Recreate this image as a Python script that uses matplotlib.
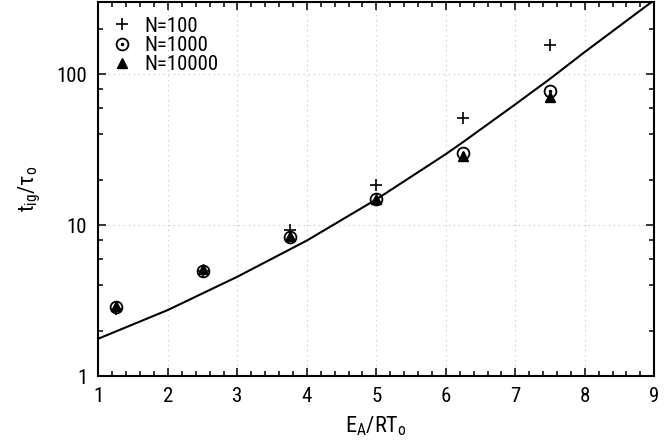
import matplotlib
matplotlib.use("Agg")
import matplotlib.pyplot as plt
from matplotlib.ticker import LogLocator, MultipleLocator, FixedLocator, NullFormatter
from matplotlib import font_manager

# ---- data ----
x_pts = [1.25, 2.5, 3.75, 5.0, 6.25, 7.5]
n100 = [2.8, 5.0, 9.3, 18.5, 51.0, 155.0]
n1000 = [2.86, 4.98, 8.3, 14.8, 29.8, 77.0]
n10000 = [2.9, 5.1, 8.4, 14.9, 28.6, 70.0]

curve_x = [1.0, 2.0, 3.0, 4.0, 5.0, 6.0, 6.25, 7.0, 7.5, 8.0, 9.0]
curve_y = [1.77, 2.74, 4.55, 7.9, 14.8, 29.5, 35.5, 63.0, 93.0, 140.0, 309.0]

xticks = [1, 2, 3, 4, 5, 6, 7, 8, 9]
yticks = [1, 10, 100]
ytick_labels = ["1", "10", "100"]
legend_labels = ["N=100", "N=1000", "N=10000"]

# ---- font ----
avail = {f.name for f in font_manager.fontManager.ttflist}
fam = "DejaVu Sans"
for cand in ["Liberation Sans Narrow", "Roboto Condensed", "Open Sans Condensed"]:
    if cand in avail:
        fam = cand
        break
plt.rcParams["font.family"] = [fam, "DejaVu Sans"]
plt.rcParams["font.stretch"] = "condensed"
plt.rcParams["mathtext.fontset"] = "custom"
plt.rcParams["mathtext.rm"] = fam + ":stretch=condensed"
plt.rcParams["mathtext.it"] = fam + ":stretch=condensed"

fig = plt.figure(figsize=(6.64, 4.44), dpi=100)
ax = fig.add_axes([0.1483, 0.153, 0.837, 0.8425])

ax.plot(curve_x, curve_y, color="black", lw=1.5, zorder=2)

ax.plot(x_pts, n100, linestyle="none", marker="+", ms=9, mew=1.2, color="black", zorder=3)
tri, = ax.plot(x_pts, n10000, linestyle="none", marker="^", ms=6.5, color="black", zorder=3)
circ, = ax.plot(x_pts, n1000, linestyle="none", marker="o", ms=8.5, mew=1.3,
                mfc="none", mec="black", zorder=4)
dot, = ax.plot(x_pts, n1000, linestyle="none", marker="o", ms=1.5, color="black", zorder=4)

h_plus = plt.Line2D([], [], linestyle="none", marker="+", ms=9, mew=1.2, color="black")
h_circ = plt.Line2D([], [], linestyle="none", marker="o", ms=8.5, mew=1.3, mfc="none", mec="black")
h_dot = plt.Line2D([], [], linestyle="none", marker="o", ms=1.5, color="black")
h_tri = plt.Line2D([], [], linestyle="none", marker="^", ms=6.5, color="black")
leg = ax.legend([h_plus, (h_circ, h_dot), h_tri], legend_labels, loc="upper left",
                frameon=False, fontsize=15, handlelength=0.9, handletextpad=0.6,
                labelspacing=0.02, borderaxespad=0.3, bbox_to_anchor=(0.0, 1.0))

ax.set_yscale("log")
ax.set_xlim(1, 9)
ax.set_ylim(1, 300)

ax.xaxis.set_major_locator(FixedLocator(xticks))
ax.xaxis.set_minor_locator(MultipleLocator(0.2))
ax.yaxis.set_major_locator(FixedLocator(yticks))
ax.set_yticklabels(ytick_labels)
ax.yaxis.set_minor_locator(LogLocator(base=10, subs=(2, 4, 6, 8)))
ax.yaxis.set_minor_formatter(NullFormatter())

ax.tick_params(which="both", direction="in", top=True, right=True, labelsize=15, width=1.1)
ax.tick_params(which="major", length=6, pad=8)
ax.tick_params(which="minor", length=3.5)
for s in ax.spines.values():
    s.set_linewidth(1.5)

ax.grid(True, which="major", color="#d4d4d4", linestyle=(0, (1.5, 3)), lw=0.8)
ax.set_axisbelow(True)

ax.set_xlabel(r"$\mathregular{E_A/RT_o}$", fontsize=16, labelpad=6)
ax.set_ylabel(r"$\mathregular{t_{ig}/τ_o}$", fontsize=16, labelpad=10)

fig.savefig("out.png", dpi=100)
